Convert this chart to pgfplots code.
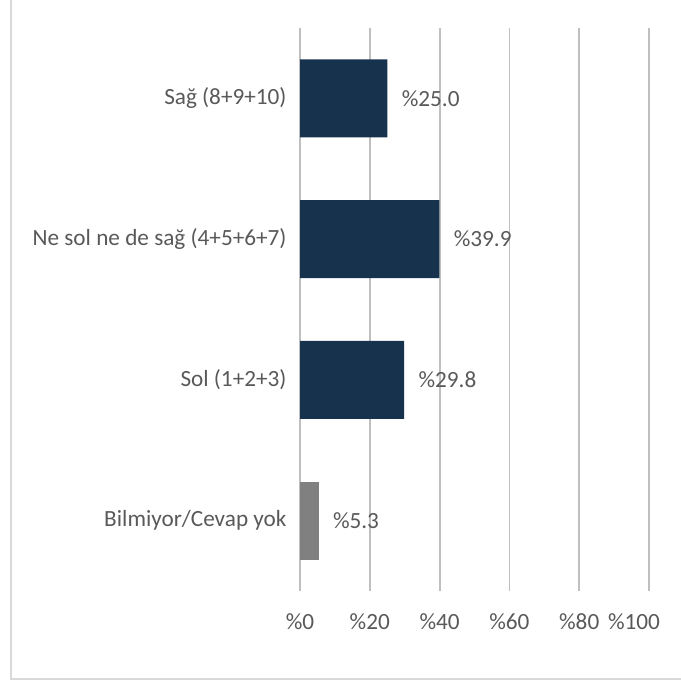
\documentclass[border=0pt]{standalone}
\usepackage{fontspec}
\setmainfont{Carlito}
\usepackage{pgfplots}
\pgfplotsset{compat=1.18}
\definecolor{navy}{HTML}{17324D}
\definecolor{bargray}{HTML}{808080}
\definecolor{txt}{HTML}{595959}
\definecolor{grid}{HTML}{D9D9D9}
\newcommand{\fs}{\fontsize{23.3}{28}\selectfont}
\begin{document}
\begin{tikzpicture}[x=1bp,y=1bp]
\useasboundingbox (0,0) rectangle (681,682);
\draw[grid, line width=1.5bp] (11,682) -- (11,3) -- (681,3);
\begin{axis}[
  at={(300bp,91bp)}, anchor=south west,
  scale only axis, width=349bp, height=563bp,
  xbar, bar width=78bp,
  xmin=0, xmax=100,
  ymin=-0.5, ymax=3.5,
  axis line style={draw=none},
  xtick={0,20,40,60,80,100},
  xticklabels={\%0,\%20,\%40,\%60,\%80,{\hspace*{-30bp}\%100}},
  ytick={0,1,2,3},
  yticklabels={Bilmiyor/Cevap yok, Sol (1+2+3), Ne sol ne de sağ (4+5+6+7), Sağ (8+9+10)},
  major tick length=0pt,
  xmajorgrids=true, ymajorgrids=false,
  grid style={grid, line width=1.8bp},
  tick label style={font=\fs, text=txt},
  xticklabel style={yshift=-19bp},
  yticklabel style={xshift=-10bp},
  nodes near coords={\%\pgfmathprintnumber[fixed,fixed zerofill,precision=1]{\pgfplotspointmeta}},
  nodes near coords style={font=\fs, text=txt, anchor=west, xshift=11bp, /pgf/number format/assume math mode=true},
  /pgf/number format/assume math mode=true,
  clip=false,
]
\addplot[fill=navy, draw=none, bar shift=0pt] coordinates {(25.0,3) (39.9,2) (29.8,1)};
\addplot[fill=bargray, draw=none, bar shift=0pt] coordinates {(5.3,0)};
\end{axis}
\end{tikzpicture}
\end{document}
